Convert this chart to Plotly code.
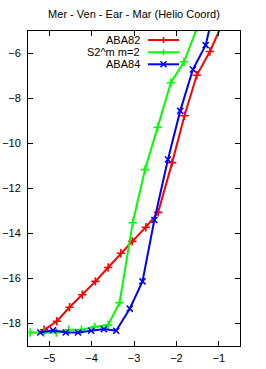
import plotly.graph_objects as go

# ---- data ----
aba82_x = [-5.12, -4.82, -4.52, -4.22, -3.91, -3.61, -3.31, -3.04, -2.72, -2.43, -2.10, -1.81, -1.52, -1.21, -0.91]
aba82_y = [-18.28, -17.90, -17.28, -16.72, -16.13, -15.51, -14.88, -14.35, -13.72, -13.06, -10.85, -8.77, -6.97, -5.91, -4.65]

s2m_x = [-5.45, -5.13, -4.83, -4.54, -4.24, -3.93, -3.61, -3.34, -3.03, -2.74, -2.44, -2.13, -1.82, -1.51]
s2m_y = [-18.40, -18.40, -18.40, -18.28, -18.28, -18.15, -18.06, -17.07, -13.52, -11.16, -9.28, -7.30, -6.37, -4.85]

aba84_x = [-5.21, -4.91, -4.61, -4.32, -4.01, -3.71, -3.42, -3.10, -2.80, -2.52, -2.20, -1.91, -1.61, -1.31, -1.01]
aba84_y = [-18.40, -18.30, -18.40, -18.40, -18.32, -18.25, -18.32, -17.34, -16.13, -13.40, -10.71, -8.55, -6.71, -5.63, -3.20]

series_names = ["ABA82", "S2^m m=2", "ABA84"]
series_colors = ["#ff0000", "#00ff00", "#0000ff"]
series_symbols = ["cross-thin", "cross-thin", "x-thin"]

x_ticks = [-5, -4, -3, -2, -1]
y_ticks = [-18, -16, -14, -12, -10, -8, -6]

FONT = "Liberation Sans, Arial, sans-serif"

fig = go.Figure()
for xs, ys, name, col, sym in zip([aba82_x, s2m_x, aba84_x], [aba82_y, s2m_y, aba84_y],
                                  series_names, series_colors, series_symbols):
    fig.add_trace(go.Scatter(
        x=xs, y=ys, name=name, mode="lines+markers",
        line=dict(color=col, width=2),
        marker=dict(symbol=sym, size=6, color=col, line=dict(color=col, width=1.6)),
        showlegend=False, cliponaxis=True,
    ))

W, H = 266, 369
L, R, T, B = 28, 26, 31, 23
pw, ph = W - L - R, H - T - B

def px2paper(px, py):
    return (px - L) / pw, (H - B - py) / ph

# manual gnuplot-style legend (text right-aligned, sample to the right)
shapes = []
annotations = []
rows_y = [40, 52.3, 64.3]
for name, col, sym, ry in zip(series_names, series_colors, series_symbols, rows_y):
    tx, ty = px2paper(142, ry)
    annotations.append(dict(x=tx, y=ty, xref="paper", yref="paper", text=name,
                            showarrow=False, xanchor="right", yanchor="middle",
                            font=dict(family=FONT, size=11, color="black")))
    x0, y0 = px2paper(148, ry)
    x1, _ = px2paper(179, ry)
    shapes.append(dict(type="line", xref="paper", yref="paper", x0=x0, x1=x1, y0=y0, y1=y0,
                       line=dict(color=col, width=2)))
    cx = 163.5
    if sym == "cross-thin":
        a, b = px2paper(cx, ry - 3)
        c, d = px2paper(cx, ry + 3)
        shapes.append(dict(type="line", xref="paper", yref="paper", x0=a, x1=c, y0=b, y1=d,
                           line=dict(color=col, width=1.6)))
    else:
        a, b = px2paper(cx - 3, ry - 3)
        c, d = px2paper(cx + 3, ry + 3)
        shapes.append(dict(type="line", xref="paper", yref="paper", x0=a, x1=c, y0=b, y1=d,
                           line=dict(color=col, width=1.6)))
        a, b = px2paper(cx - 3, ry + 3)
        c, d = px2paper(cx + 3, ry - 3)
        shapes.append(dict(type="line", xref="paper", yref="paper", x0=a, x1=c, y0=b, y1=d,
                           line=dict(color=col, width=1.6)))

fig.update_layout(
    width=W, height=H,
    margin=dict(l=L, r=R, t=T, b=B, pad=0, autoexpand=False),
    paper_bgcolor="white", plot_bgcolor="white",
    font=dict(family=FONT, size=11, color="black"),
    title=dict(text="Mer - Ven - Ear - Mar (Helio Coord)", x=0.5, xref="paper", xanchor="center",
               y=1 - 14 / H, yanchor="middle", font=dict(family=FONT, size=11, color="black")),
    shapes=shapes, annotations=annotations,
    showlegend=False,
)
fig.update_xaxes(range=[-5.5, -0.5], tickvals=x_ticks, ticks="inside", ticklen=5,
                 tickcolor="black", showline=True, linecolor="black", linewidth=1,
                 mirror="ticks", showgrid=False, zeroline=False, ticklabelstandoff=2,
                 automargin=False,
                 tickfont=dict(family=FONT, size=11, color="black"))
fig.update_yaxes(range=[-19, -5], tickvals=y_ticks, ticks="inside", ticklen=5,
                 tickcolor="black", showline=True, linecolor="black", linewidth=1,
                 mirror="ticks", showgrid=False, zeroline=False, ticklabelstandoff=4,
                 automargin=False,
                 tickfont=dict(family=FONT, size=11, color="black"))

fig.write_html("out.html",
               config={"displayModeBar": False, "staticPlot": True},
               post_script="document.body.style.margin='0';document.body.style.overflow='hidden';")
